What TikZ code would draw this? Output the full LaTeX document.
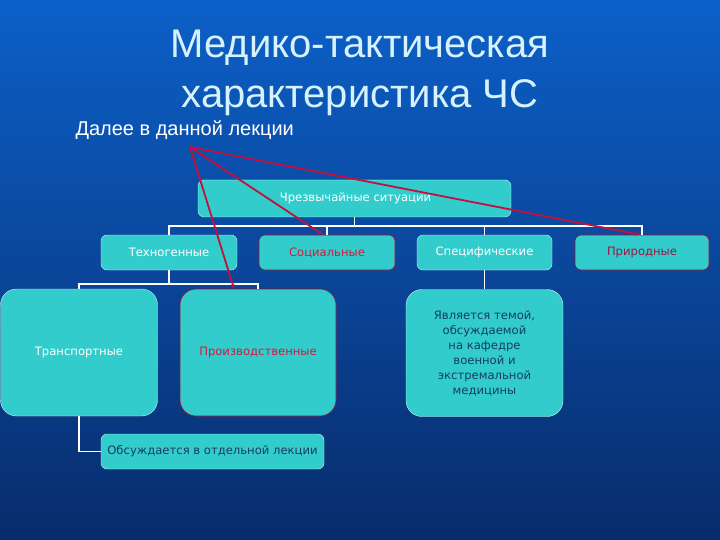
\documentclass[tikz,border=0pt]{standalone}
\usepackage{fontspec}
\setmainfont{Liberation Sans}
\newfontfamily\boxfont{DejaVu Sans}
\usetikzlibrary{arrows.meta}

\definecolor{bgtop}{RGB}{12,96,200}
\definecolor{bgbottom}{RGB}{8,44,108}
\definecolor{boxfill}{RGB}{51,204,204}
\definecolor{boxline}{RGB}{200,245,245}
\definecolor{pointer}{RGB}{195,16,60}
\definecolor{titlecol}{RGB}{215,242,255}
\definecolor{darktext}{RGB}{20,60,105}
\definecolor{redtext}{RGB}{215,25,60}
\definecolor{maroontext}{RGB}{150,25,65}

\begin{document}
\begin{tikzpicture}[
    x=1pt, y=-1pt,
    % Definición de estilos
    box base/.style={rectangle, rounded corners=6pt, fill=boxfill, draw=boxline, thin,
        inner sep=2pt, font=\boxfont\fontsize{11.6}{15}\selectfont, text=white, align=center},
    box big/.style={box base, rounded corners=16pt, minimum width=157pt, minimum height=127pt},
    box mark/.style={draw=pointer!80!black, semithick},
    edge tree/.style={draw=white, line width=1.6pt},
    edge pointer/.style={-{Stealth[length=5pt, width=4pt]}, pointer, line width=1.8pt}
]

    % =========================================================================
    % 1. Fondo y título
    % =========================================================================
    \shade[top color=bgtop, bottom color=bgbottom] (0,0) rectangle (720,540);
    \useasboundingbox (0,0) rectangle (720,540);

    \node[font=\fontsize{40}{50}\selectfont, text=titlecol, align=center] (title) at (360,73)
        {Медико-тактическая\\характеристика ЧС};
    \node[font=\fontsize{20}{24}\selectfont, text=white, anchor=west] (lead) at (72,130)
        {Далее в данной лекции};
    \coordinate (src) at (190,147);

    % =========================================================================
    % 2. Nodos del árbol
    % =========================================================================
    \node[box base, minimum width=313pt, minimum height=37pt] (root) at (354.5,198.5)
        {\hspace*{2pt}Чрезвычайные ситуации};

    \node[box base, minimum width=136pt, minimum height=35pt] (tech) at (169,252.5) {Техногенные};
    \node[box base, box mark, text=redtext, minimum width=136pt, minimum height=35pt] (social) at (327,252.5) {Социальные};
    \node[box base, minimum width=135pt, minimum height=35pt] (specific) at (484.5,252.5) {Специфические};
    \node[box base, box mark, text=maroontext, minimum width=134pt, minimum height=35pt] (natural) at (642,252.5) {Природные};

    \node[box big] (transport) at (79,352.5) {Транспортные};
    \node[box big, box mark, text=redtext, minimum width=156pt] (industrial) at (258,352.5) {Производственные};
    \node[box big, text=darktext] (dept) at (484.5,353)
        {Является темой,\\обсуждаемой\\на кафедре\\военной и\\экстремальной\\медицины};

    \node[box base, text=darktext, minimum width=223pt, minimum height=35pt] (lecture) at (212.5,451.5)
        {Обсуждается в отдельной лекции};

    % =========================================================================
    % 3. Conexiones del árbol
    % =========================================================================
    \foreach \c in {tech, social, specific, natural} {
        \draw[edge tree] (root.south) -- ++(0,9) -| (\c.north);
    }
    \foreach \c in {transport, industrial} {
        \draw[edge tree] (tech.south) -- ++(0,14) -| (\c.north);
    }
    \draw[edge tree] (transport.south) |- (lecture.west);
    \draw[edge tree] (specific.south) -- (dept.north);

    % =========================================================================
    % 4. Flechas desde la nota
    % =========================================================================
    \draw[edge pointer] (src) -- ([xshift=-4pt]social.north);
    \draw[edge pointer] (src) -- ([xshift=-24pt]industrial.north);
    \draw[edge pointer] (src) -- ([xshift=-2pt]natural.north);

\end{tikzpicture}
\end{document}
